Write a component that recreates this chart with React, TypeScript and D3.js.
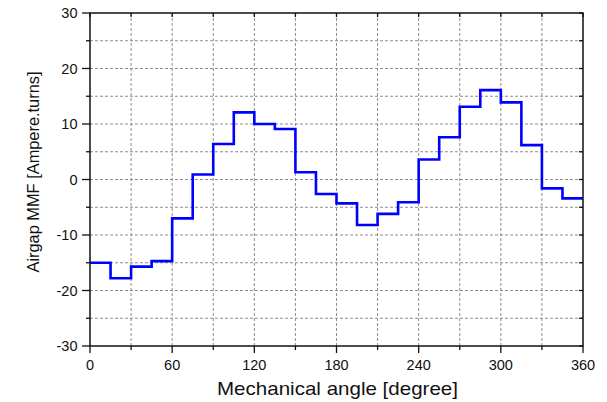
import React, { useEffect, useRef } from 'react';
import * as d3 from 'd3';

// step boundaries every 15 degrees, one MMF value per step
const angles = d3.range(0, 361, 15);
const mmf = [
  -15.0, -17.8, -15.7, -14.7, -7.0, 0.9, 6.4, 12.1, 10.0, 9.1, 1.3, -2.6,
  -4.3, -8.2, -6.2, -4.1, 3.6, 7.6, 13.1, 16.1, 13.9, 6.2, -1.6, -3.4,
];
const xTicks = [0, 60, 120, 180, 240, 300, 360];
const yTicks = [-30, -20, -10, 0, 10, 20, 30];

const W = 607;
const H = 402;
const M = { left: 90, right: 24, top: 13, bottom: 56 };

const App = () => {
  const ref = useRef<SVGSVGElement>(null);

  useEffect(() => {
    const svg = d3.select(ref.current);
    svg.selectAll('*').remove();

    const x = d3.scaleLinear().domain([0, 360]).range([M.left, W - M.right]);
    const y = d3.scaleLinear().domain([-30, 30]).range([H - M.bottom, M.top]);
    const font = 'Liberation Sans, Arial, sans-serif';

    // dashed grid
    const grid = svg.append('g').attr('stroke', '#8c8c8c').attr('stroke-width', 1).attr('stroke-dasharray', '3,2');
    d3.range(30, 360, 30).forEach(v => {
      grid.append('line').attr('x1', x(v)).attr('x2', x(v)).attr('y1', y(-30)).attr('y2', y(30));
    });
    d3.range(-25, 30, 5).forEach(v => {
      grid.append('line').attr('x1', x(0)).attr('x2', x(360)).attr('y1', y(v)).attr('y2', y(v));
    });

    // step line
    const pts: [number, number][] = mmf.map((v, i) => [angles[i], v]);
    pts.push([360, mmf[mmf.length - 1]]);
    const line = d3.line<[number, number]>()
      .x(d => x(d[0]))
      .y(d => y(d[1]))
      .curve(d3.curveStepAfter);
    svg.append('path')
      .datum(pts)
      .attr('fill', 'none')
      .attr('stroke', '#0000ff')
      .attr('stroke-width', 2.6)
      .attr('d', line);

    // frame
    svg.append('rect')
      .attr('x', x(0)).attr('y', y(30))
      .attr('width', x(360) - x(0)).attr('height', y(-30) - y(30))
      .attr('fill', 'none').attr('stroke', '#111').attr('stroke-width', 1.5);

    const ticks = svg.append('g').attr('stroke', '#111').attr('stroke-width', 1.3);
    // bottom & top ticks
    d3.range(0, 361, 30).forEach(v => {
      const major = v % 60 === 0;
      ticks.append('line').attr('x1', x(v)).attr('x2', x(v))
        .attr('y1', y(-30)).attr('y2', y(-30) + (major ? 7 : 4));
      ticks.append('line').attr('x1', x(v)).attr('x2', x(v))
        .attr('y1', y(30)).attr('y2', y(30) + 4);
    });
    // left & right ticks
    d3.range(-30, 31, 5).forEach(v => {
      const major = v % 10 === 0;
      ticks.append('line').attr('x1', x(0)).attr('x2', x(0) - (major ? 8 : 4))
        .attr('y1', y(v)).attr('y2', y(v));
      ticks.append('line').attr('x1', x(360)).attr('x2', x(360) - 4)
        .attr('y1', y(v)).attr('y2', y(v));
    });

    // tick labels
    svg.append('g').selectAll('text').data(xTicks).enter().append('text')
      .attr('x', d => x(d)).attr('y', y(-30) + 23.5)
      .attr('text-anchor', 'middle').attr('font-family', font).attr('font-size', 14.5)
      .attr('fill', '#111').text(d => d);
    svg.append('g').selectAll('text').data(yTicks).enter().append('text')
      .attr('x', x(0) - 12.5).attr('y', d => y(d) + 5)
      .attr('text-anchor', 'end').attr('font-family', font).attr('font-size', 14.5)
      .attr('fill', '#111').text(d => d);

    // axis titles
    svg.append('text')
      .attr('x', 337.5).attr('y', 395)
      .attr('text-anchor', 'middle').attr('font-family', font).attr('font-size', 19)
      .attr('textLength', 241).attr('lengthAdjust', 'spacingAndGlyphs')
      .attr('fill', '#111').text('Mechanical angle [degree]');
    svg.append('text')
      .attr('transform', 'translate(39,172) rotate(-90)')
      .attr('text-anchor', 'middle').attr('font-family', font).attr('font-size', 17)
      .attr('textLength', 201).attr('lengthAdjust', 'spacingAndGlyphs')
      .attr('fill', '#111').text('Airgap MMF [Ampere.turns]');
  }, []);

  return (
    <div style={{ position: 'absolute', left: 0, top: 0 }}>
      <svg ref={ref} width={W} height={H} style={{ display: 'block', background: '#fff' }} />
    </div>
  );
};

export default App;
